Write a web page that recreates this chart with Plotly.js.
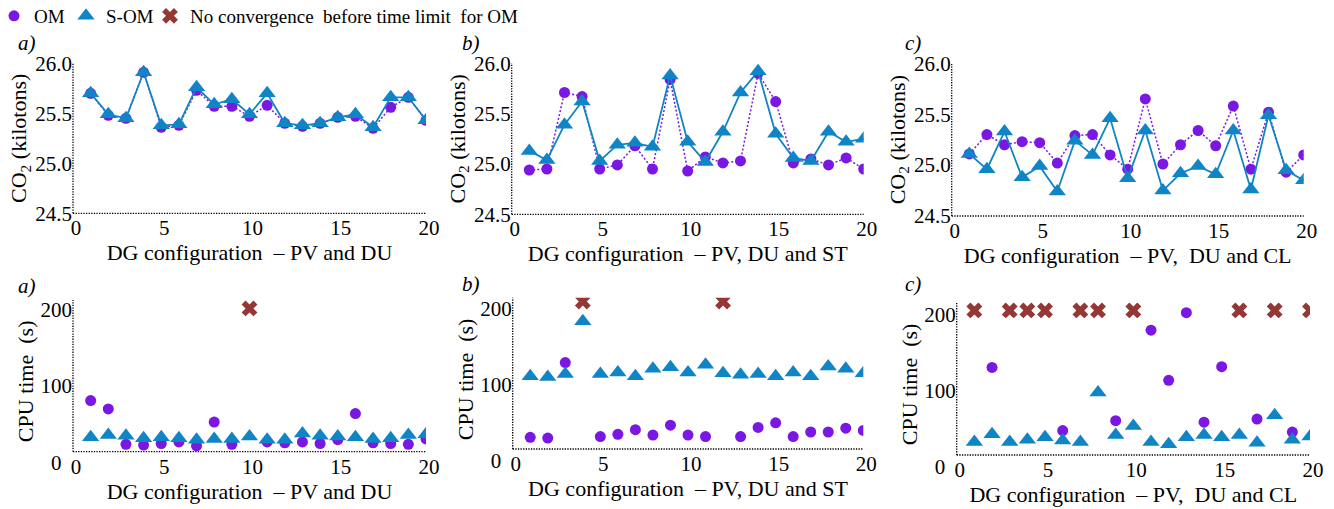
<!DOCTYPE html>
<html><head><meta charset="utf-8">
<script src="https://cdn.plot.ly/plotly-3.0.1.min.js"></script>
<style>html,body{margin:0;padding:0;background:#fff}</style>
</head><body><div id="chart" style="width:1334px;height:509px"></div>
<script>
// ---------- data ----------
const dgConfig = [1,2,3,4,5,6,7,8,9,10,11,12,13,14,15,16,17,18,19,20];

const co2OM_a  = [25.70,25.48,25.45,25.91,25.36,25.38,25.73,25.57,25.57,25.47,25.58,25.40,25.37,25.40,25.46,25.47,25.35,25.56,25.66,25.43];
const co2SOM_a = [25.70,25.49,25.45,25.91,25.38,25.39,25.76,25.59,25.64,25.49,25.70,25.40,25.38,25.40,25.46,25.49,25.36,25.66,25.66,25.43];

const co2OM_b  = [24.94,24.95,25.71,25.67,24.95,24.99,25.18,24.95,25.84,24.93,25.07,25.01,25.03,25.90,25.62,25.01,25.05,24.99,25.06,24.95];
const co2SOM_b = [25.13,25.04,25.39,25.62,25.03,25.19,25.21,25.17,25.88,25.22,25.02,25.32,25.71,25.92,25.30,25.06,25.03,25.32,25.22,25.25];

const co2OM_c  = [25.11,25.30,25.20,25.23,25.22,25.02,25.29,25.30,25.10,24.96,25.65,25.01,25.20,25.34,25.19,25.58,24.96,25.52,24.93,25.10];
const co2SOM_c = [25.11,24.96,25.33,24.88,24.99,24.74,25.24,25.10,25.46,24.87,25.34,24.75,24.92,24.99,24.91,25.34,24.76,25.49,24.95,24.85];

const cpuOM_a  = [81,70,24,23,25,27,22,53,24,null,27,26,27,25,30,64,26,25,24,31];
const cpuNC_a  = [null,null,null,null,null,null,null,null,null,201,null,null,null,null,null,null,null,null,null,null];
const cpuSOM_a = [33,36,35,32,33,32,30,31,31,34,30,30,38,35,34,33,31,32,36,37];

const cpuOM_b  = [31,30,129,null,32,35,41,34,47,34,32,null,32,44,50,32,38,38,43,40];
const cpuNC_b  = [null,null,null,209,null,null,null,null,null,null,null,209,null,null,null,null,null,null,null,null];
const cpuSOM_b = [111,110,114,183,114,116,111,121,123,116,126,115,113,114,111,116,111,124,121,115];

const cpuOM_c  = [null,131,null,null,null,48,null,null,61,null,180,114,203,59,132,null,63,null,46,null];
const cpuNC_c  = [206,null,206,206,206,null,206,206,null,206,null,null,null,null,null,206,null,206,null,206];
const cpuSOM_c = [33,43,33,36,39,35,33,98,42,54,33,30,39,42,39,42,32,68,36,40];

const cpuTickVals = [0,100,200];
const cpuTickText = ['0\u2007','100','200'];

const xTitles = ['DG configuration  – PV and DU','DG configuration  – PV, DU and ST','DG configuration  – PV,  DU and CL'];
const panelLetters = ['a)','b)','c)'];
const seriesNames = ['OM','S-OM','No convergence  before time limit  for OM'];

// ---------- style ----------
const W = 1334, H = 509;
const FONT = 'Liberation Serif';
const PURPLE = '#7a17e2', BLUE = '#0f85c6', RED = '#953735';

const panels = [
  {n:'',  left:73,    right:426,    top:63.3,  bottom:213.3, axisY:213.3, range:[24.5,26.0], dtick:0.5, fmt:'.1f', yt:'CO<sub>2</sub> (kilotons)', col:0, lx:27,  ly:43},
  {n:'2', left:511.7, right:863.7,  top:63.3,  bottom:214.3, axisY:214.3, range:[24.5,26.0], dtick:0.5, fmt:'.1f', yt:'CO<sub>2</sub> (kilotons)', col:1, lx:471, ly:43},
  {n:'3', left:951.7, right:1303.7, top:63.3,  bottom:216,   axisY:216,   range:[24.5,26.0], dtick:0.5, fmt:'.1f', yt:'CO<sub>2</sub> (kilotons)', col:2, lx:913, ly:43},
  {n:'4', left:73,    right:426,    top:300,   bottom:462.7, axisY:451.7, range:[0,212],     dtick:100, fmt:'d',   yt:'CPU time  (s)', col:0, lx:27,  ly:286},
  {n:'5', left:512.7, right:863.3,  top:297.7, bottom:461,   axisY:449,   range:[0,214],     dtick:100, fmt:'d',   yt:'CPU time  (s)', col:1, lx:471, ly:284},
  {n:'6', left:956.7, right:1310,   top:301.7, bottom:467,   axisY:455,   range:[0,217.5],   dtick:100, fmt:'d',   yt:'CPU time  (s)', col:2, lx:913, ly:284}
];

const co2Data = [[co2OM_a,co2SOM_a],[co2OM_b,co2SOM_b],[co2OM_c,co2SOM_c]];
const cpuData = [[cpuOM_a,cpuSOM_a,cpuNC_a],[cpuOM_b,cpuSOM_b,cpuNC_b],[cpuOM_c,cpuSOM_c,cpuNC_c]];
const legendIds = ['legend','legend2','legend3'];

const traces = [];
// top row: CO2 emissions, markers joined by lines
for (let i=0;i<3;i++){
  const p = panels[i];
  traces.push({x:dgConfig, y:co2Data[i][0], xaxis:'x'+p.n, yaxis:'y'+p.n, type:'scatter', mode:'lines+markers',
    showlegend:false, name:seriesNames[0],
    line:{color:PURPLE, width:1.5, dash:'2px,2px'}, marker:{symbol:'circle', size:11, color:PURPLE}});
  traces.push({x:dgConfig, y:co2Data[i][1], xaxis:'x'+p.n, yaxis:'y'+p.n, type:'scatter', mode:'lines+markers',
    showlegend:false, name:seriesNames[1],
    line:{color:BLUE, width:1.8}, marker:{symbol:'triangle-up', size:15, color:BLUE}});
}
// bottom row: CPU time, markers only
const symbols = ['circle','triangle-up','x'];
const sizes = [11,15,14];
const colors = [PURPLE,BLUE,RED];
for (let i=0;i<3;i++){
  const p = panels[i+3];
  for (let s=0;s<3;s++){
    traces.push({x:dgConfig, y:cpuData[i][s], xaxis:'x'+p.n, yaxis:'y'+p.n, type:'scatter', mode:'markers',
      showlegend:i===0, name:seriesNames[s], legend:legendIds[s],
      marker:{symbol:symbols[s], size:sizes[s], color:colors[s]}});
  }
}

const legendX = [-6, 66, 150];
const layout = {
  width:W, height:H, margin:{l:0,r:0,t:0,b:0,autoexpand:false},
  paper_bgcolor:'#fff', plot_bgcolor:'rgba(0,0,0,0)',
  font:{family:FONT, color:'#000', size:21},
  showlegend:true,
  shapes:[], annotations:[]
};
legendIds.forEach((id, s) => {
  layout[id] = {orientation:'h', x:legendX[s]/W, xanchor:'left', y:1-16/H, yanchor:'middle',
    font:{family:FONT, size:19, color:'#000'}, bgcolor:'rgba(0,0,0,0)', borderwidth:0};
});

const dot = {color:'#000', width:1.3, dash:'1.3px,1.3px'};
panels.forEach((p, k) => {
  const bottomRow = k >= 3;
  const xa = {
    domain:[p.left/W, p.right/W], range:[0,20], dtick:5, tick0:0,
    anchor: bottomRow ? 'free' : 'y'+p.n,
    showgrid:false, zeroline:false, showline:false, ticks:'', ticklabelshift:3,
    tickfont:{family:FONT, size:21, color:'#000'},
    title:{text:xTitles[p.col], font:{family:FONT, size:22, color:'#000'}, standoff:0}
  };
  if (bottomRow) xa.position = 1 - p.axisY/H;
  layout['xaxis'+p.n] = xa;
  const ya = {
    domain:[1 - p.bottom/H, 1 - p.top/H], range:p.range,
    anchor:'x'+p.n, showgrid:false, zeroline:false, showline:false, ticks:'',
    tickfont:{family:FONT, size:21, color:'#000'},
    title:{text:p.yt, font:{family:FONT, size:22, color:'#000'}, standoff: bottomRow ? 0 : 2}
  };
  if (bottomRow) { ya.tickmode = 'array'; ya.tickvals = cpuTickVals; ya.ticktext = cpuTickText; }
  else { ya.dtick = p.dtick; ya.tick0 = 0; ya.tickformat = p.fmt; }
  layout['yaxis'+p.n] = ya;
  // dotted axis lines
  layout.shapes.push({type:'line', xref:'paper', yref:'paper', x0:p.left/W, x1:p.right/W,
    y0:1 - p.axisY/H, y1:1 - p.axisY/H, line:dot, layer:'below'});
  layout.shapes.push({type:'line', xref:'paper', yref:'paper', x0:p.left/W, x1:p.left/W,
    y0:1 - p.axisY/H, y1:1 - p.top/H, line:dot, layer:'below'});
  layout.annotations.push({text:'<i>'+panelLetters[p.col]+'</i>', xref:'paper', yref:'paper',
    x:p.lx/W, y:1 - p.ly/H, xanchor:'center', yanchor:'middle', showarrow:false,
    font:{family:FONT, size:21, color:'#000'}});
});

Plotly.newPlot('chart', traces, layout, {displayModeBar:false, staticPlot:true});
</script></body></html>
